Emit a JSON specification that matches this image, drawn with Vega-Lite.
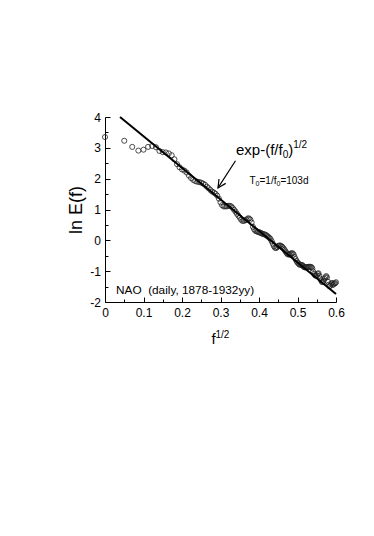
{
  "$schema": "https://vega.github.io/schema/vega-lite/v6.json",
  "autosize": {"type": "none"},
  "padding": {"left": 105, "top": 117, "right": 38, "bottom": 234},
  "width": 231,
  "height": 185,
  "background": "white",
  "config": {"view": {"stroke": null}, "font": "Liberation Sans"},
  "datasets": {
    "points": [
      {"x":0,"y":3.35},{"x":0.05,"y":3.23},{"x":0.0707,"y":3.03},{"x":0.0866,"y":2.91},{"x":0.1,"y":2.94},
      {"x":0.1118,"y":3.03},{"x":0.1225,"y":3.06},{"x":0.1323,"y":3.02},{"x":0.1414,"y":2.90},{"x":0.15,"y":2.86},
      {"x":0.1581,"y":2.85},{"x":0.1658,"y":2.82},{"x":0.1732,"y":2.76},{"x":0.1803,"y":2.63},{"x":0.1871,"y":2.47},
      {"x":0.1936,"y":2.37},{"x":0.2,"y":2.30},{"x":0.2062,"y":2.26},{"x":0.2121,"y":2.20},{"x":0.2179,"y":2.10},
      {"x":0.2236,"y":2.02},{"x":0.2291,"y":1.96},{"x":0.2345,"y":1.92},{"x":0.2398,"y":1.90},{"x":0.2449,"y":1.89},
      {"x":0.25,"y":1.87},{"x":0.255,"y":1.84},{"x":0.2598,"y":1.80},{"x":0.2646,"y":1.74},{"x":0.2693,"y":1.69},
      {"x":0.2739,"y":1.63},{"x":0.2784,"y":1.58},{"x":0.2828,"y":1.55},{"x":0.2872,"y":1.51},{"x":0.2915,"y":1.45},
      {"x":0.2958,"y":1.35},{"x":0.3,"y":1.23},{"x":0.3041,"y":1.14},{"x":0.3082,"y":1.10},{"x":0.3122,"y":1.10},
      {"x":0.3162,"y":1.10},{"x":0.3202,"y":1.12},{"x":0.324,"y":1.12},{"x":0.3279,"y":1.10},{"x":0.3317,"y":1.05},
      {"x":0.3354,"y":0.99},{"x":0.3391,"y":0.93},{"x":0.3428,"y":0.86},{"x":0.3464,"y":0.80},{"x":0.35,"y":0.74},
      {"x":0.3536,"y":0.67},{"x":0.3571,"y":0.63},{"x":0.3606,"y":0.63},{"x":0.364,"y":0.65},{"x":0.3674,"y":0.67},
      {"x":0.3708,"y":0.71},{"x":0.3742,"y":0.71},{"x":0.3775,"y":0.67},{"x":0.3808,"y":0.58},{"x":0.3841,"y":0.44},
      {"x":0.3873,"y":0.36},{"x":0.3905,"y":0.31},{"x":0.3937,"y":0.29},{"x":0.3969,"y":0.28},{"x":0.4,"y":0.26},
      {"x":0.4031,"y":0.25},{"x":0.4062,"y":0.23},{"x":0.4093,"y":0.21},{"x":0.4123,"y":0.20},{"x":0.4153,"y":0.19},
      {"x":0.4183,"y":0.17},{"x":0.4213,"y":0.14},{"x":0.4243,"y":0.11},{"x":0.4272,"y":0.08},{"x":0.4301,"y":0.04},
      {"x":0.433,"y":-0.03},{"x":0.4359,"y":-0.11},{"x":0.4387,"y":-0.19},{"x":0.4416,"y":-0.24},{"x":0.4444,"y":-0.25},
      {"x":0.4472,"y":-0.22},{"x":0.45,"y":-0.18},{"x":0.4528,"y":-0.17},{"x":0.4555,"y":-0.17},{"x":0.4583,"y":-0.19},
      {"x":0.461,"y":-0.22},{"x":0.4637,"y":-0.26},{"x":0.4664,"y":-0.31},{"x":0.469,"y":-0.36},{"x":0.4717,"y":-0.41},
      {"x":0.4743,"y":-0.45},{"x":0.477,"y":-0.46},{"x":0.4796,"y":-0.46},{"x":0.4822,"y":-0.43},{"x":0.4848,"y":-0.42},
      {"x":0.4873,"y":-0.42},{"x":0.4899,"y":-0.46},{"x":0.4924,"y":-0.54},{"x":0.495,"y":-0.61},{"x":0.4975,"y":-0.67},
      {"x":0.5,"y":-0.72},{"x":0.5025,"y":-0.75},{"x":0.505,"y":-0.79},{"x":0.5074,"y":-0.79},{"x":0.5099,"y":-0.80},
      {"x":0.5123,"y":-0.80},{"x":0.5148,"y":-0.84},{"x":0.5172,"y":-0.87},{"x":0.5196,"y":-0.88},{"x":0.522,"y":-0.87},
      {"x":0.5244,"y":-0.87},{"x":0.5268,"y":-0.87},{"x":0.5292,"y":-0.86},{"x":0.5315,"y":-0.86},{"x":0.5339,"y":-0.86},
      {"x":0.5362,"y":-0.87},{"x":0.5385,"y":-0.91},{"x":0.5408,"y":-1.01},{"x":0.5431,"y":-1.09},{"x":0.5454,"y":-1.13},
      {"x":0.5477,"y":-1.15},{"x":0.55,"y":-1.13},{"x":0.5523,"y":-1.08},{"x":0.5545,"y":-1.07},{"x":0.5568,"y":-1.15},
      {"x":0.559,"y":-1.24},{"x":0.5612,"y":-1.30},{"x":0.5635,"y":-1.35},{"x":0.5657,"y":-1.35},{"x":0.5679,"y":-1.31},
      {"x":0.5701,"y":-1.25},{"x":0.5723,"y":-1.20},{"x":0.5745,"y":-1.16},{"x":0.5766,"y":-1.20},{"x":0.5788,"y":-1.34},
      {"x":0.5809,"y":-1.44},{"x":0.5831,"y":-1.49},{"x":0.5852,"y":-1.47},{"x":0.5874,"y":-1.41},{"x":0.5895,"y":-1.38},
      {"x":0.5916,"y":-1.45},{"x":0.5937,"y":-1.42},{"x":0.5958,"y":-1.40},{"x":0.598,"y":-1.39},{"x":0.6,"y":-1.36}
    ],
    "fit": [{"x":0.039,"y":4.0},{"x":0.6,"y":-1.74}],
    "arrow": [{"x":0.339,"y":2.58,"x2":0.2935,"y2":1.70}],
    "arrowhead": [{"x":0.2935,"y":1.70}],
    "text15": [
      {"x":0.3403,"y":2.773,"t":"exp-(f/f"},
      {"x":0.4758,"y":2.773,"t":")"}
    ],
    "text10": [
      {"x":0.4615,"y":2.675,"t":"0"},
      {"x":0.4888,"y":3.0,"t":"1/2"},
      {"x":0.3753,"y":1.831,"t":"T"},
      {"x":0.4013,"y":1.831,"t":"=1/f"},
      {"x":0.4556,"y":1.831,"t":"=103d"},
      {"x":0.287,"y":-3.153,"t":"1/2"}
    ],
    "text7": [
      {"x":0.3912,"y":1.75,"t":"0"},
      {"x":0.4455,"y":1.75,"t":"0"}
    ],
    "label": [{"x":0.0286,"y":-1.756,"t":"NAO\u00a0 (daily, 1878-1932yy)"}]
  },
  "encoding": {
    "x": {
      "field": "x", "type": "quantitative",
      "scale": {"domain": [0, 0.6], "nice": false, "zero": false},
      "axis": {
        "values": [0,0.05,0.1,0.15,0.2,0.25,0.3,0.35,0.4,0.45,0.5,0.55,0.6],
        "labelExpr": "abs(datum.value*10 - round(datum.value*10)) < 0.001 ? format(datum.value, '.1~f') : ''",
        "tickSize": {"condition": {"test": "abs(datum.value*10 - round(datum.value*10)) < 0.001", "value": -5}, "value": -3},
        "labelPadding": 10.8,
        "labelOverlap": false,
        "labelFlush": false,
        "grid": false,
        "domainColor": "black",
        "tickColor": "black",
        "labelColor": "black",
        "labelFont": "Liberation Sans",
        "labelFontSize": 12,
        "title": "f",
        "titleFont": "Liberation Sans",
        "titleFontSize": 15,
        "titleFontWeight": "normal",
        "titleColor": "black",
        "titleX": 108,
        "titleY": 41,
        "titleBaseline": "alphabetic"
      }
    },
    "y": {
      "field": "y", "type": "quantitative",
      "scale": {"domain": [-2, 4], "nice": false, "zero": false},
      "axis": {
        "values": [-2,-1.5,-1,-0.5,0,0.5,1,1.5,2,2.5,3,3.5,4],
        "labelExpr": "abs(datum.value - round(datum.value)) < 0.001 ? (datum.value < 0 ? '-' + format(-datum.value, 'd') : format(datum.value, 'd')) : ''",
        "tickSize": {"condition": {"test": "abs(datum.value - round(datum.value)) < 0.001", "value": -5}, "value": -3},
        "labelPadding": 9.5,
        "labelOverlap": false,
        "labelFlush": false,
        "grid": false,
        "domainColor": "black",
        "tickColor": "black",
        "labelColor": "black",
        "labelFont": "Liberation Sans",
        "labelFontSize": 12,
        "title": "ln E(f)",
        "titleFont": "Liberation Sans",
        "titleFontSize": 18,
        "titleFontWeight": "normal",
        "titleColor": "black",
        "titleAngle": -90,
        "titleX": -24,
        "titleY": 92.5,
        "titleAlign": "center",
        "titleBaseline": "alphabetic"
      }
    }
  },
  "layer": [
    {
      "data": {"name": "points"},
      "mark": {"type": "point", "shape": "circle", "filled": false, "size": 26, "strokeWidth": 0.8, "color": "#222222", "opacity": 1}
    },
    {
      "data": {"name": "fit"},
      "mark": {"type": "line", "color": "black", "strokeWidth": 2}
    },
    {
      "data": {"name": "arrow"},
      "mark": {"type": "rule", "color": "black", "strokeWidth": 1.2},
      "encoding": {"x2": {"field": "x2"}, "y2": {"field": "y2"}}
    },
    {
      "data": {"name": "arrowhead"},
      "mark": {"type": "point", "shape": "M-0.5,1L0,0L0.5,1", "filled": false, "size": 256, "angle": 213, "strokeWidth": 1.2, "color": "black", "opacity": 1}
    },
    {
      "data": {"name": "text15"},
      "mark": {"type": "text", "align": "left", "baseline": "alphabetic", "fontSize": 15, "font": "Liberation Sans", "color": "black"},
      "encoding": {"text": {"field": "t"}}
    },
    {
      "data": {"name": "text10"},
      "mark": {"type": "text", "align": "left", "baseline": "alphabetic", "fontSize": 10, "font": "Liberation Sans", "color": "black"},
      "encoding": {"text": {"field": "t"}}
    },
    {
      "data": {"name": "text7"},
      "mark": {"type": "text", "align": "left", "baseline": "alphabetic", "fontSize": 7, "font": "Liberation Sans", "color": "black"},
      "encoding": {"text": {"field": "t"}}
    },
    {
      "data": {"name": "label"},
      "mark": {"type": "text", "align": "left", "baseline": "alphabetic", "fontSize": 11.8, "font": "Liberation Sans", "color": "black"},
      "encoding": {"text": {"field": "t"}}
    }
  ]
}
